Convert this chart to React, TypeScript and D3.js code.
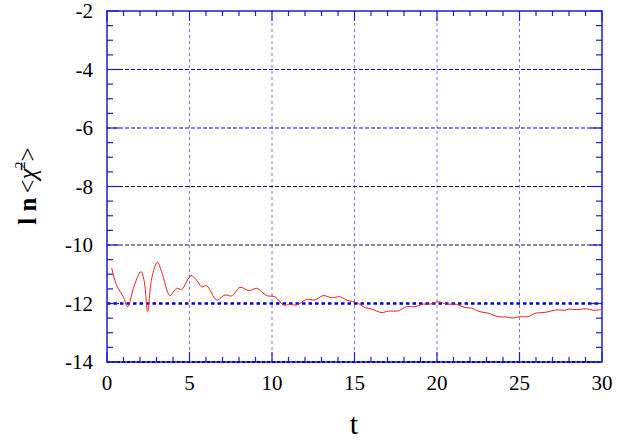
import React from "react";
import * as d3 from "d3";

const tValues = [0.28, 0.59, 0.99, 1.25, 1.66, 2.06, 2.26, 2.46, 2.71, 3.05, 3.31, 3.82, 4.22, 4.52, 5.09, 5.43, 5.74, 6.04, 6.65, 7.15, 7.56, 8.06, 8.62, 9.07, 9.68, 10.18, 10.69, 11.09, 11.5, 12.1, 12.6, 13.1, 13.6, 14.1, 14.6, 15.13, 15.64, 16.04, 16.65, 17.05, 17.66, 18.16, 18.67, 19.17, 19.58, 20.08, 20.59, 21.19, 21.7, 22.1, 22.6, 23.1, 23.7, 24.2, 24.6, 25.0, 25.5, 26.0, 26.6, 27.2, 27.75, 28.0, 28.45, 29.05, 29.45, 29.95];
const lnChi = [-10.78, -11.39, -11.77, -12.11, -11.37, -10.91, -11.25, -12.28, -11.14, -10.59, -10.91, -11.73, -11.48, -11.52, -11.05, -11.2, -11.43, -11.39, -11.88, -11.71, -11.74, -11.45, -11.56, -11.48, -11.73, -11.77, -12.05, -12.03, -12.05, -11.86, -11.88, -11.73, -11.8, -11.77, -11.9, -11.97, -12.14, -12.19, -12.31, -12.26, -12.25, -12.11, -12.11, -12.02, -12.02, -11.94, -12.02, -12.03, -12.14, -12.16, -12.28, -12.33, -12.45, -12.46, -12.5, -12.45, -12.45, -12.33, -12.3, -12.22, -12.23, -12.19, -12.21, -12.18, -12.23, -12.21];
const xTicks = [0, 5, 10, 15, 20, 25, 30];
const yTicks = [-2, -4, -6, -8, -10, -12, -14];

export default function App() {
  const W = 617, H = 444;
  const L = 107, R = 602, T = 11, B = 362;
  const x = d3.scaleLinear().domain([0, 30]).range([L, R]);
  const y = d3.scaleLinear().domain([-14, -2]).range([B, T]);
  const line = d3.line<number>().x((_, i) => x(tValues[i])).y((d) => y(d)).curve(d3.curveCatmullRom.alpha(0.5));
  const axisColor = "#1c1cdc";
  const xMinor = d3.range(0, 31, 1);
  const yMinor = d3.range(-14, -1.99, 0.5);
  const font = "Times New Roman, Times, Liberation Serif, DejaVu Serif, serif";
  const gridColor = (v: number) => (v <= -8 ? "#101060" : "#1010c0");
  return (
    <svg width={W} height={H} style={{ position: "absolute", left: 0, top: 0, background: "#fff" }}>
      {xTicks.filter((t) => t > 0 && t < 30).map((t) => (
        <line key={"vg" + t} x1={x(t)} x2={x(t)} y1={T} y2={B} stroke="#7878f0" strokeWidth={1} strokeDasharray="3,3" />
      ))}
      {yTicks.filter((v) => v > -12 && v < -2).map((v) => (
        <line key={"hg" + v} x1={L} x2={R} y1={y(v)} y2={y(v)} stroke={gridColor(v)} strokeWidth={1} strokeDasharray="4,2" />
      ))}
      <line x1={L} x2={R} y1={y(-12)} y2={y(-12)} stroke="#0000d0" strokeWidth={2.5} strokeDasharray="3.5,3" />
      <rect x={L} y={T} width={R - L} height={B - T} fill="none" stroke={axisColor} strokeWidth={1.5} />
      <line x1={L} x2={R} y1={B} y2={B} stroke="#0000d0" strokeWidth={2} strokeDasharray="3,2" />
      {xMinor.map((t) => {
        const len = t % 5 === 0 ? 10 : 5;
        return (
          <g key={"xt" + t}>
            <line x1={x(t)} x2={x(t)} y1={B} y2={B - len} stroke={axisColor} strokeWidth={1.2} />
            <line x1={x(t)} x2={x(t)} y1={T} y2={T + len} stroke={axisColor} strokeWidth={1.2} />
          </g>
        );
      })}
      {yMinor.map((v) => {
        const len = Math.abs(v % 2) < 1e-6 ? 12 : 6;
        return (
          <g key={"yt" + v}>
            <line x1={L} x2={L + len} y1={y(v)} y2={y(v)} stroke={axisColor} strokeWidth={1.2} />
            <line x1={R} x2={R - len} y1={y(v)} y2={y(v)} stroke={axisColor} strokeWidth={1.2} />
          </g>
        );
      })}
      <path d={line(lnChi) || ""} fill="none" stroke="#e82020" strokeWidth={1} />
      <g style={{ fontFamily: font }}>
        {xTicks.map((t) => (
          <text key={"xl" + t} x={x(t)} y={390} textAnchor="middle" fontSize={21} fill="#000">{t}</text>
        ))}
        {yTicks.map((v) => (
          <text key={"yl" + v} x={93} y={y(v) + 7} textAnchor="end" fontSize={21} fill="#000">{v}</text>
        ))}
        <text x={354} y={434} textAnchor="middle" fontSize={30} fill="#000">t</text>
        <g transform="translate(36,186) rotate(-90)">
          <text x={0} y={0} textAnchor="middle" fontSize={25} fill="#000">
            <tspan fontWeight="bold">l n</tspan>
            <tspan dx={4}>{"<"}</tspan>
            <tspan fontStyle="italic">{"χ\u0304"}</tspan>
            <tspan fontSize={14} dy={-11}>2</tspan>
            <tspan dy={11}>{">"}</tspan>
          </text>
        </g>
      </g>
    </svg>
  );
}
